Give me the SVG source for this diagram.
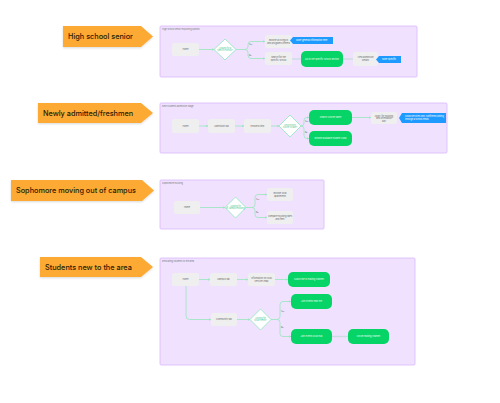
<svg xmlns="http://www.w3.org/2000/svg" width="500" height="403" viewBox="0 0 500 403">
<defs>
<style>
.frame{fill:#f0e2ff;stroke:#d9b8fb;stroke-width:0.8}
.flabel{font-family:Inter,"Liberation Sans",sans-serif;font-size:2.2px;fill:#777}
.tag{fill:#fdaa35}
.tagt{font-family:Inter,"Liberation Sans",sans-serif;font-size:7.3px;font-weight:500;fill:#2a1a00}
.gray{fill:#efefef}
.gt{font-family:Inter,"Liberation Sans",sans-serif;font-size:2.2px;fill:#666;text-anchor:middle}
.green{fill:#06d466}
.grt{font-family:Inter,"Liberation Sans",sans-serif;font-size:2.2px;fill:#e8ffef;text-anchor:middle}
.dia{fill:#ffffff;stroke:#8de6bd;stroke-width:0.8}
.dt{font-family:Inter,"Liberation Sans",sans-serif;font-size:2px;fill:#4cc98f;text-anchor:middle}
.blue{fill:#1f9bff}
.bt{font-family:Inter,"Liberation Sans",sans-serif;font-size:2.2px;fill:#ffffff}
.conn path{fill:none;stroke:#9fe5c3;stroke-width:0.9}
.conn path.g{stroke:#c9dde0;stroke-width:1.4}
.yn{font-family:Inter,"Liberation Sans",sans-serif;font-size:1.8px;fill:#555}
</style>
<filter id="sh" x="-10%" y="-20%" width="120%" height="150%"><feDropShadow dx="0" dy="1" stdDeviation="0.8" flood-color="#000" flood-opacity="0.15"/></filter>
<marker id="ar" viewBox="0 0 6 6" refX="5" refY="3" markerWidth="3" markerHeight="3" orient="auto"><path d="M0,0 L6,3 L0,6 z" fill="#9fe5c3"/></marker>
</defs>
<rect width="500" height="403" fill="#ffffff"/>

<g id="tags">
<g id="tag1"><polygon class="tag" filter="url(#sh)" points="63,26 141,26 153,36.5 141,47 63,47"/><text class="tagt" x="68" y="39.2">High school senior</text></g>
<g id="tag2"><polygon class="tag" filter="url(#sh)" points="38,103 141,103 153,113 141,123 38,123"/><text class="tagt" x="43" y="115.7">Newly admitted/freshmen</text></g>
<g id="tag3"><polygon class="tag" filter="url(#sh)" points="11,180 142,180 154,190.5 142,201 11,201"/><text class="tagt" x="16" y="193.2">Sophomore moving out of campus</text></g>
<g id="tag4"><polygon class="tag" filter="url(#sh)" points="40,257 141,257 153,267 141,277 40,277"/><text class="tagt" x="45" y="269.7">Students new to the area</text></g>
</g>

<g id="frames">
<rect class="frame" x="160" y="26" width="257" height="51" rx="1"/>
<text class="flabel" x="162" y="29.5">High school senior exploring options</text>
<rect class="frame" x="160" y="103" width="287" height="50" rx="1"/>
<text class="flabel" x="162" y="106.5">New students admission stage</text>
<rect class="frame" x="160" y="180" width="164" height="49" rx="1"/>
<text class="flabel" x="162" y="183.5">Sophomore housing</text>
<rect class="frame" x="160" y="258" width="255" height="107" rx="1"/>
<text class="flabel" x="162" y="261.5">Relocating students to the area</text>
</g>

<g class="conn" id="connectors">
<!-- section 1 -->
<path d="M199,49.5 H214" marker-end="url(#ar)"/>
<path d="M236,49.5 H245 Q248,49.5 248,46.5 V44.5 Q248,41.5 251,41.5 H265" marker-end="url(#ar)"/>
<path d="M245,49.5 Q248,49.5 248,52.5 V55.5 Q248,58.5 251,58.5 H265" marker-end="url(#ar)"/>
<path class="g" d="M292,59 H301"/>
<path class="g" d="M343,59 H353"/>
<!-- section 2 -->
<path d="M199,126 H208" marker-end="url(#ar)"/>
<path d="M235,126 H244" marker-end="url(#ar)"/>
<path d="M271,126 H279" marker-end="url(#ar)"/>
<path d="M301,126 Q304,126 304,123 V120 Q304,117.5 307,117.5 H309" marker-end="url(#ar)"/>
<path d="M301,126 Q304,126 304,129 V135.5 Q304,138.5 307,138.5 H309" marker-end="url(#ar)"/>
<path d="M352,117.5 H371" marker-end="url(#ar)"/>
<!-- section 3 -->
<path d="M200,207.5 H225" marker-end="url(#ar)"/>
<path d="M246,207.5 H252 Q255,207.5 255,204.5 V197.5 Q255,194.5 258,194.5 H267" marker-end="url(#ar)"/>
<path d="M252,207.5 Q255,207.5 255,210.5 V214.5 Q255,217.5 258,217.5 H267" marker-end="url(#ar)"/>
<!-- section 4 -->
<path d="M199,279.5 H210" marker-end="url(#ar)"/>
<path d="M237,279.5 H248" marker-end="url(#ar)"/>
<path d="M275,279.5 H288" marker-end="url(#ar)"/>
<path d="M186,286 V316 Q186,319.5 189.5,319.5 H211" marker-end="url(#ar)"/>
<path d="M237,319.5 H250" marker-end="url(#ar)"/>
<path d="M271,319.5 H277 Q280,319.5 280,316.5 V304.5 Q280,301.5 283,301.5 H291" marker-end="url(#ar)"/>
<path d="M277,319.5 Q280,319.5 280,322.5 V333.5 Q280,336.5 283,336.5 H291" marker-end="url(#ar)"/>
<path class="g" d="M332,336.5 H348"/>
<text class="yn" x="249" y="45">Yes</text>
<text class="yn" x="249" y="55.5">No</text>
<text class="yn" x="305" y="122">Yes</text>
<text class="yn" x="305" y="133">No</text>
<text class="yn" x="256" y="200">Yes</text>
<text class="yn" x="256" y="213">No</text>
<text class="yn" x="281" y="312">Yes</text>
<text class="yn" x="281" y="328">No</text>
</g>

<!-- section 1 nodes -->
<g id="s1-home"><rect class="gray" x="172" y="43" width="27" height="13" rx="2.5"/><text class="gt" x="185.5" y="50.3">Home</text></g>
<g id="s1-decision"><polygon class="dia" points="225,39 236,49.5 225,60 214,49.5"/><text class="dt" x="225" y="49">Looking for a</text><text class="dt" x="225" y="51.4">specific school?</text></g>
<g id="s1-browse"><rect class="gray" x="265" y="35" width="27" height="13" rx="2.5"/><text class="gt" x="278.5" y="41">Browse all schools</text><text class="gt" x="278.5" y="43.5">and programs offered</text></g>
<g id="s1-search"><rect class="gray" x="265" y="52" width="27" height="13" rx="2.5"/><text class="gt" x="278.5" y="58">Search for the</text><text class="gt" x="278.5" y="60.5">specific school</text></g>
<g id="s1-callout1"><polygon class="blue" points="290,40.5 293,37 333,37 333,44 293,44"/><text class="bt" x="296" y="41.3">More general information here</text></g>
<g id="s1-go"><rect class="green" x="301" y="51" width="42" height="16" rx="5"/><text class="grt" x="322" y="59.8">Go to the specific school section</text></g>
<g id="s1-details"><rect class="gray" x="353" y="52" width="25" height="14" rx="2.5"/><text class="gt" x="365.5" y="58.3">View admission</text><text class="gt" x="365.5" y="60.8">details</text></g>
<g id="s1-callout2"><polygon class="blue" points="376,59.5 379,56 401,56 401,63 379,63"/><text class="bt" x="382" y="60.3">More specific</text></g>

<!-- section 2 nodes -->
<g id="s2-home"><rect class="gray" x="172" y="119" width="27" height="14" rx="2.5"/><text class="gt" x="185.5" y="126.8">Home</text></g>
<g id="s2-admission"><rect class="gray" x="208" y="119" width="27" height="14" rx="2.5"/><text class="gt" x="221.5" y="126.8">Admission tab</text></g>
<g id="s2-enrolled"><rect class="gray" x="244" y="119" width="27" height="14" rx="2.5"/><text class="gt" x="257.5" y="126.8">Enrolled view</text></g>
<g id="s2-decision"><polygon class="dia" points="290,115 301,126 290,137 279,126"/><text class="dt" x="290" y="125.5">Know which</text><text class="dt" x="290" y="127.9">course to take?</text></g>
<g id="s2-search"><rect class="green" x="309" y="110" width="43" height="15" rx="5"/><text class="grt" x="330.5" y="118.3">Search course name</text></g>
<g id="s2-browse"><rect class="green" x="309" y="131" width="43" height="15" rx="5"/><text class="grt" x="330.5" y="139.3">Browse available student clubs</text></g>
<g id="s2-apply"><rect class="gray" x="371" y="112" width="26" height="12" rx="2.5"/><text class="gt" x="384" y="116.5">Apply for housing</text><text class="gt" x="384" y="119">and orientation</text><text class="gt" x="384" y="121.5">day</text></g>
<g id="s2-callout"><polygon class="blue" points="399,118 402,113 446,113 446,123 402,123"/><text class="bt" x="405" y="117.3">Show services only confirmed joining</text><text class="bt" x="405" y="120.3">through a school email</text></g>

<!-- section 3 nodes -->
<g id="s3-home"><rect class="gray" x="174" y="201" width="26" height="13" rx="2.5"/><text class="gt" x="187" y="208.3">Home</text></g>
<g id="s3-decision"><polygon class="dia" points="235.5,197 246,207.5 235.5,218 225,207.5"/><text class="dt" x="235.5" y="207">Looking for</text><text class="dt" x="235.5" y="209.4">off-campus housing?</text></g>
<g id="s3-browse"><rect class="gray" x="267" y="188" width="26" height="13" rx="2.5"/><text class="gt" x="280" y="194">Browse local</text><text class="gt" x="280" y="196.5">apartments</text></g>
<g id="s3-compare"><rect class="gray" x="267" y="211" width="26" height="13" rx="2.5"/><text class="gt" x="280" y="217">Compare housing rates</text><text class="gt" x="280" y="219.5">and fees</text></g>

<!-- section 4 nodes -->
<g id="s4-home"><rect class="gray" x="172" y="273" width="27" height="13" rx="2.5"/><text class="gt" x="185.5" y="280.3">Home</text></g>
<g id="s4-campus"><rect class="gray" x="210" y="273" width="27" height="13" rx="2.5"/><text class="gt" x="223.5" y="280.3">Campus tab</text></g>
<g id="s4-info"><rect class="gray" x="248" y="273" width="27" height="13" rx="2.5"/><text class="gt" x="261.5" y="279">Information on local</text><text class="gt" x="261.5" y="281.5">services map</text></g>
<g id="s4-subscribe"><rect class="green" x="288" y="272" width="42" height="15" rx="5"/><text class="grt" x="309" y="280.3">Subscribe to mailing channel</text></g>
<g id="s4-community"><rect class="gray" x="211" y="313" width="26" height="13" rx="2.5"/><text class="gt" x="224" y="320.3">Community tab</text></g>
<g id="s4-decision"><polygon class="dia" points="260.5,309 271,319.5 260.5,330 250,319.5"/><text class="dt" x="260.5" y="319">Looking for</text><text class="dt" x="260.5" y="321.4">local events?</text></g>
<g id="s4-events"><rect class="green" x="291" y="294" width="41" height="15" rx="5"/><text class="grt" x="311.5" y="302.3">Join Events near me</text></g>
<g id="s4-hub"><rect class="green" x="291" y="329" width="41" height="15" rx="5"/><text class="grt" x="311.5" y="337.3">Join Events local hub</text></g>
<g id="s4-forum"><rect class="green" x="348" y="329" width="41" height="15" rx="5"/><text class="grt" x="368.5" y="337.3">Forum mailing channel</text></g>
</svg>
